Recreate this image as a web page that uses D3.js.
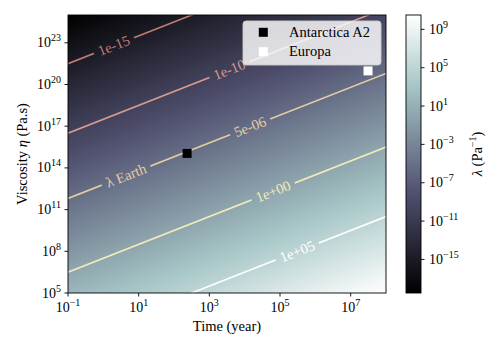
<!DOCTYPE html>
<html><head><meta charset="utf-8">
<script src="https://cdn.jsdelivr.net/npm/d3@7"></script>
<style>
body{margin:0;background:#fff}
svg{font-family:"Liberation Serif","DejaVu Serif",serif}
</style>
</head><body>
<svg id="chart" width="500" height="350"></svg>
<script>
// ---------- data ----------
const SEC_PER_YEAR = 3.1536e7;          // lambda = t[s] / eta
const timeDomain = [1e-1, 1e8];          // years
const viscDomain = [1e5, 1e25];          // Pa.s
const xTicks = [1e-1, 1e1, 1e3, 1e5, 1e7];
const yTicks = [1e5, 1e8, 1e11, 1e14, 1e17, 1e20, 1e23];
const cbTicks = [1e-15, 1e-11, 1e-7, 1e-3, 1e1, 1e5, 1e9];
const contourLevels = [1e-15, 1e-10, 5e-6, 1e0, 1e5];
const contourColors = ["#c4796f", "#d69a90", "#e4cda1", "#efebb9", "#ffffff"];
// contour labels: level index, text, time (years) where label sits
const labelLevel = [0, 1, 2, 2, 3, 4];
const labelText  = ["1e-15", "1e-10", "λ Earth", "5e-06", "1e+00", "1e+05"];
const labelTime  = [2.0, 3700, 4.4, 14300, 64000, 307000];
// samples
const sampleNames = ["Antarctica A2", "Europa"];
const sampleTime  = [235, 3.1e7];
const sampleVisc  = [1.1e15, 9.5e20];
const sampleFill  = ["#000000", "#ffffff"];

// ---------- layout ----------
const svg = d3.select("#chart");
const P = {l: 68, r: 386, t: 15, b: 293};
const CB = {l: 406, r: 421};
const x = d3.scaleLog().domain(timeDomain).range([P.l, P.r]);
const y = d3.scaleLog().domain(viscDomain).range([P.b, P.t]);
const lamMin = SEC_PER_YEAR * timeDomain[0] / viscDomain[1];
const lamMax = SEC_PER_YEAR * timeDomain[1] / viscDomain[0];
const cb = d3.scaleLog().domain([lamMin, lamMax]).range([P.b, P.t]);
const vNorm = d3.scaleLinear().domain([Math.log10(lamMin), Math.log10(lamMax)]).range([0, 1]).clamp(true);

function bone(v) {
  let r = v < 0.746032 ? v * 0.652778 / 0.746032 : 0.652778 + (v - 0.746032) * 0.347222 / 0.253968;
  let g;
  if (v < 0.365079) g = v * 0.319444 / 0.365079;
  else if (v < 0.746032) g = 0.319444 + (v - 0.365079) * 0.458334 / 0.380953;
  else g = 0.777778 + (v - 0.746032) * 0.222222 / 0.253968;
  let b = v < 0.365079 ? v * 0.444444 / 0.365079 : 0.444444 + (v - 0.365079) * 0.555556 / 0.634921;
  return [r * 255, g * 255, b * 255];
}

function rasterImage(w, h, fn) {
  const c = document.createElement("canvas");
  c.width = w; c.height = h;
  const ctx = c.getContext("2d");
  const img = ctx.createImageData(w, h);
  for (let j = 0; j < h; j++) for (let i = 0; i < w; i++) {
    const col = bone(fn(i, j));
    const k = (j * w + i) * 4;
    img.data[k] = col[0]; img.data[k + 1] = col[1]; img.data[k + 2] = col[2]; img.data[k + 3] = 255;
  }
  ctx.putImageData(img, 0, 0);
  return c.toDataURL();
}

// background field lambda(t, eta)
const pw = P.r - P.l, ph = P.b - P.t;
const bg = rasterImage(pw, ph, (i, j) => {
  const t = x.invert(P.l + i + 0.5), eta = y.invert(P.t + j + 0.5);
  return vNorm(Math.log10(SEC_PER_YEAR * t / eta));
});
svg.append("image").attr("x", P.l).attr("y", P.t).attr("width", pw).attr("height", ph)
  .attr("preserveAspectRatio", "none").attr("href", bg);

// clip + mask
const defs = svg.append("defs");
defs.append("clipPath").attr("id", "plotclip").append("rect")
  .attr("x", P.l).attr("y", P.t).attr("width", pw).attr("height", ph);
const mask = defs.append("mask").attr("id", "lblmask").attr("maskUnits", "userSpaceOnUse")
  .attr("x", 0).attr("y", 0).attr("width", 500).attr("height", 350);
mask.append("rect").attr("width", 500).attr("height", 350).attr("fill", "#fff");

// contours: eta = t[s] / lambda
const tSamples = [timeDomain[0], timeDomain[1]];
const lineGen = d3.line().x(d => x(d[0])).y(d => y(d[1]));
const cg = svg.append("g").attr("clip-path", "url(#plotclip)");
const lines = cg.append("g").attr("mask", "url(#lblmask)");
contourLevels.forEach((lv, i) => {
  lines.append("path")
    .attr("d", lineGen(tSamples.map(t => [t, SEC_PER_YEAR * t / lv])))
    .attr("fill", "none").attr("stroke", contourColors[i]).attr("stroke-width", 1.6);
});
labelText.forEach((txt, k) => {
  const lv = contourLevels[labelLevel[k]];
  const t = labelTime[k];
  const cx = x(t), cy = y(SEC_PER_YEAR * t / lv);
  const x2 = x(t * 10), y2 = y(SEC_PER_YEAR * t * 10 / lv);
  const ang = Math.atan2(y2 - cy, x2 - cx) * 180 / Math.PI;
  const te = cg.append("text")
    .attr("transform", `translate(${cx},${cy}) rotate(${ang})`)
    .attr("text-anchor", "middle").attr("dy", "0.33em")
    .attr("font-size", 14.5).attr("fill", contourColors[labelLevel[k]])
    .text(txt);
  const w = te.node().getComputedTextLength();
  mask.append("rect")
    .attr("transform", `translate(${cx},${cy}) rotate(${ang})`)
    .attr("x", -w / 2 - 5).attr("y", -9).attr("width", w + 10).attr("height", 18)
    .attr("fill", "#000");
});

// samples
sampleNames.forEach((n, i) => {
  svg.append("rect")
    .attr("x", x(sampleTime[i]) - 4.5).attr("y", y(sampleVisc[i]) - 4.5)
    .attr("width", 9).attr("height", 9).attr("fill", sampleFill[i]);
});

// frame
svg.append("rect").attr("x", P.l).attr("y", P.t).attr("width", pw).attr("height", ph)
  .attr("fill", "none").attr("stroke", "#000").attr("stroke-width", 0.9);

function sup(sel, base, exp) {
  sel.append("tspan").text(base);
  sel.append("tspan").attr("dy", -6).attr("font-size", 10).text(exp);
}
function expOf(v) { const e = Math.round(Math.log10(v)); return e < 0 ? "\u2212" + (-e) : "" + e; }

// x axis
xTicks.forEach(v => {
  svg.append("line").attr("x1", x(v)).attr("x2", x(v)).attr("y1", P.b).attr("y2", P.b + 3.5)
    .attr("stroke", "#000").attr("stroke-width", 0.9);
  const t = svg.append("text").attr("x", x(v)).attr("y", 312).attr("text-anchor", "middle").attr("font-size", 14);
  sup(t, "10", expOf(v));
});
// y axis
yTicks.forEach(v => {
  svg.append("line").attr("x1", P.l - 3.5).attr("x2", P.l).attr("y1", y(v)).attr("y2", y(v))
    .attr("stroke", "#000").attr("stroke-width", 0.9);
  const t = svg.append("text").attr("x", 61).attr("y", y(v) + 4.5).attr("text-anchor", "end").attr("font-size", 14);
  sup(t, "10", expOf(v));
});
svg.append("text").attr("x", (P.l + P.r) / 2).attr("y", 331).attr("text-anchor", "middle")
  .attr("font-size", 14.5).text("Time (year)");
const yl = svg.append("text").attr("transform", `translate(27,${(P.t + P.b) / 2}) rotate(-90)`)
  .attr("text-anchor", "middle").attr("font-size", 14.5);
yl.append("tspan").text("Viscosity ");
yl.append("tspan").attr("font-style", "italic").text("η");
yl.append("tspan").text(" (Pa.s)");

// legend
const lg = svg.append("g");
lg.append("rect").attr("x", 243).attr("y", 21).attr("width", 138).attr("height", 44).attr("rx", 3)
  .attr("fill", "#ffffff").attr("fill-opacity", 0.82).attr("stroke", "#cccccc").attr("stroke-width", 0.9);
sampleNames.forEach((n, i) => {
  const cy = 32.3 + i * 19.4;
  lg.append("rect").attr("x", 263.3 - 4.5).attr("y", cy - 4.5).attr("width", 9).attr("height", 9)
    .attr("fill", sampleFill[i]);
  lg.append("text").attr("x", 289).attr("y", cy + 4.5).attr("font-size", 14.5).text(n);
});

// colorbar
const cbImg = rasterImage(CB.r - CB.l, P.b - P.t, (i, j) => vNorm(Math.log10(cb.invert(P.t + j + 0.5))));
svg.append("image").attr("x", CB.l).attr("y", P.t).attr("width", CB.r - CB.l).attr("height", P.b - P.t)
  .attr("preserveAspectRatio", "none").attr("href", cbImg);
svg.append("rect").attr("x", CB.l).attr("y", P.t).attr("width", CB.r - CB.l).attr("height", P.b - P.t)
  .attr("fill", "none").attr("stroke", "#000").attr("stroke-width", 0.9);
cbTicks.forEach(v => {
  svg.append("line").attr("x1", CB.r).attr("x2", CB.r + 3.5).attr("y1", cb(v)).attr("y2", cb(v))
    .attr("stroke", "#000").attr("stroke-width", 0.9);
  const t = svg.append("text").attr("x", 429).attr("y", cb(v) + 4.5).attr("font-size", 14);
  sup(t, "10", expOf(v));
});
const cl = svg.append("text").attr("transform", `translate(482,${(P.t + P.b) / 2}) rotate(-90)`)
  .attr("text-anchor", "middle").attr("font-size", 14.5);
cl.append("tspan").attr("font-style", "italic").text("λ");
cl.append("tspan").text(" (Pa");
cl.append("tspan").attr("dy", -6).attr("font-size", 10).text("\u22121");
cl.append("tspan").attr("dy", 6).text(")");
</script>
</body></html>
